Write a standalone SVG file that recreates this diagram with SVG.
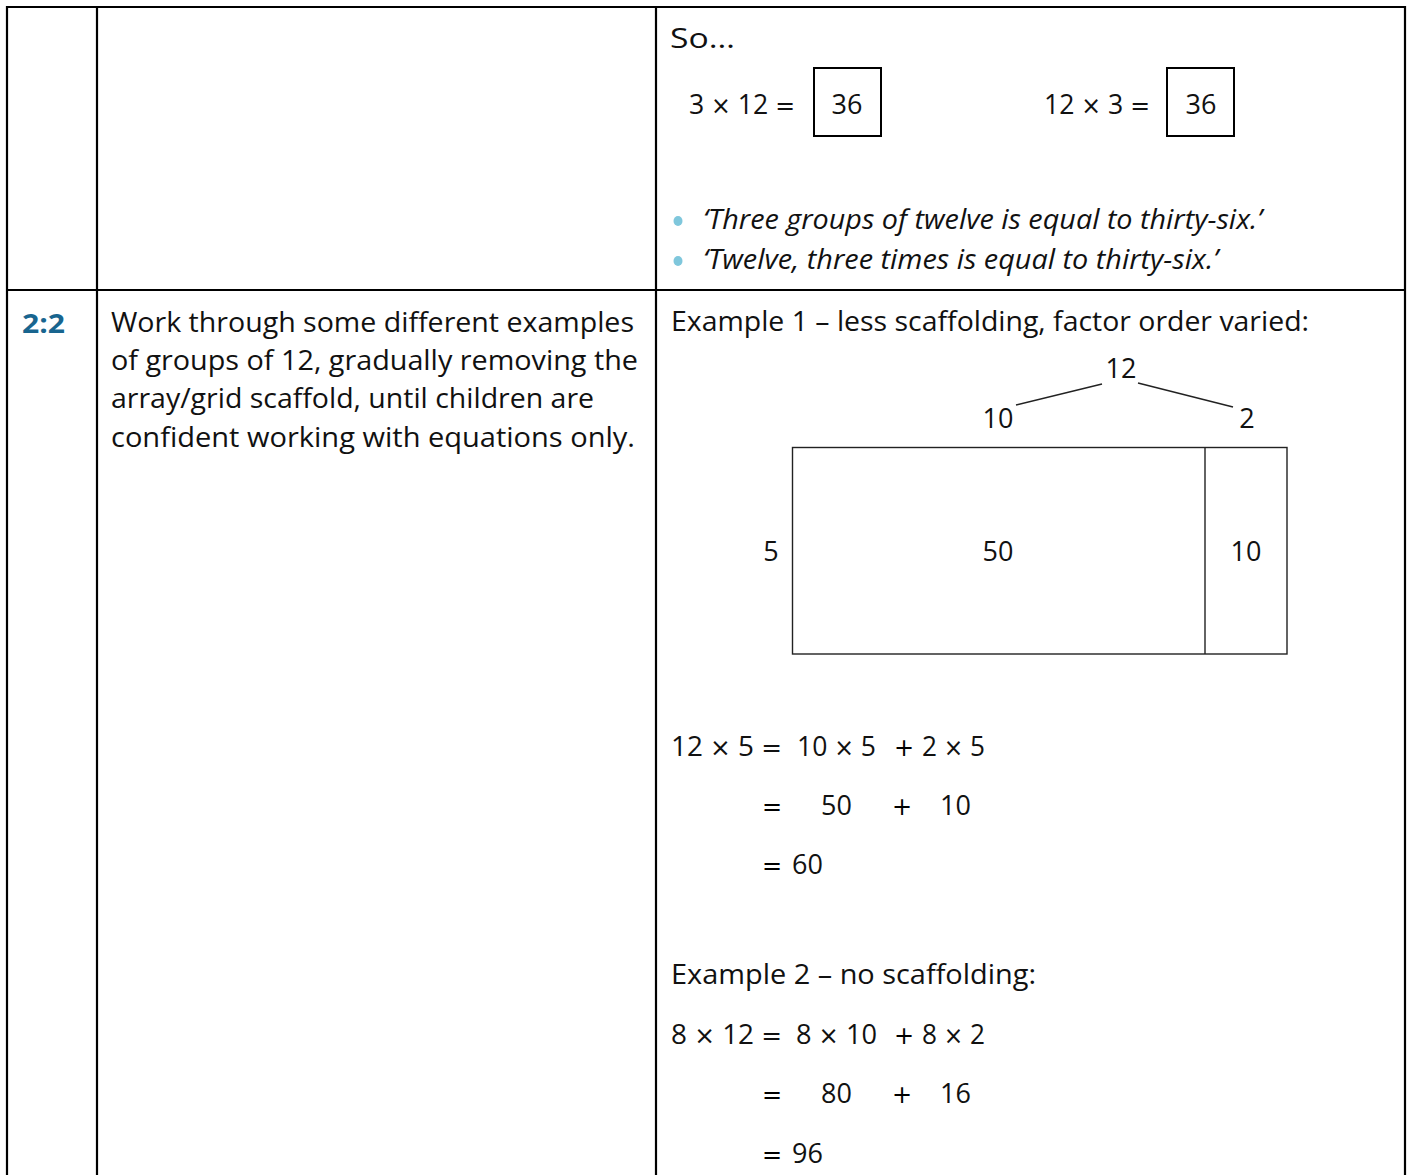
<svg xmlns="http://www.w3.org/2000/svg" width="1411" height="1175" viewBox="0 0 1411 1175">
<style>
.t{font-family:"Open Sans","Liberation Sans",sans-serif;font-size:27px;fill:#111}
.i{font-family:"Open Sans","Liberation Sans",sans-serif;font-size:27px;font-style:italic;fill:#111}
.b{font-family:"Open Sans","Liberation Sans",sans-serif;font-weight:bold;font-size:27px;fill:#18658f}
.s{font-family:"DejaVu Sans",sans-serif;font-size:24px}
.m{text-anchor:middle}
.grid{stroke:#000;stroke-width:2.2;fill:none}
.thin{stroke:#222;stroke-width:1.4;fill:none}
.box{stroke:#000;stroke-width:2;fill:none}
.dot{fill:#7fc7dc}
</style>
<rect width="1411" height="1175" fill="#fff"/>
<g id="table">
<path class="grid" d="M7,1175 V7 H1405 V1175 M97,7 V1175 M656,7 V1175 M7,290 H1405"/>
</g>
<g id="row1-right">
<text class="t" x="670" y="48" textLength="65" lengthAdjust="spacingAndGlyphs">So…</text>
<text class="t" x="689" y="114" textLength="106" lengthAdjust="spacingAndGlyphs">3 <tspan class="s">×</tspan> 12 <tspan class="s">=</tspan></text>
<rect class="box" x="814" y="68" width="67" height="68"/>
<text class="t m" x="847" y="114">36</text>
<text class="t" x="1044" y="114" textLength="106" lengthAdjust="spacingAndGlyphs">12 <tspan class="s">×</tspan> 3 <tspan class="s">=</tspan></text>
<rect class="box" x="1167" y="68" width="67" height="68"/>
<text class="t m" x="1201" y="114">36</text>
<ellipse class="dot" cx="678" cy="221" rx="4.5" ry="5"/>
<text class="i" x="703" y="229" textLength="559" lengthAdjust="spacingAndGlyphs">‘Three groups of twelve is equal to thirty-six.’</text>
<ellipse class="dot" cx="678" cy="261" rx="4.5" ry="5"/>
<text class="i" x="703" y="269" textLength="515" lengthAdjust="spacingAndGlyphs">‘Twelve, three times is equal to thirty-six.’</text>
</g>
<g id="row2-label">
<text class="b" x="22" y="333" textLength="43" lengthAdjust="spacingAndGlyphs">2:2</text>
</g>
<g id="row2-desc">
<text class="t" x="111" y="332" textLength="523" lengthAdjust="spacingAndGlyphs">Work through some different examples</text>
<text class="t" x="111" y="370" textLength="527" lengthAdjust="spacingAndGlyphs">of groups of 12, gradually removing the</text>
<text class="t" x="111" y="408" textLength="483" lengthAdjust="spacingAndGlyphs">array/grid scaffold, until children are</text>
<text class="t" x="111" y="447" textLength="524" lengthAdjust="spacingAndGlyphs">confident working with equations only.</text>
</g>
<g id="example1">
<text class="t" x="671" y="331" textLength="638" lengthAdjust="spacingAndGlyphs">Example 1 – less scaffolding, factor order varied:</text>
<text class="t m" x="1121" y="378">12</text>
<text class="t m" x="998" y="428">10</text>
<text class="t m" x="1247" y="428">2</text>
<text class="t m" x="771" y="561">5</text>
<text class="t m" x="998" y="561">50</text>
<text class="t m" x="1246" y="561">10</text>
</g>
<g id="connectors">
<line class="thin" x1="1016" y1="405" x2="1102" y2="384"/>
<line class="thin" x1="1138" y1="383" x2="1233" y2="407"/>
<rect class="thin" x="792.5" y="447.5" width="494.5" height="206.5"/>
<line class="thin" x1="1205" y1="447.5" x2="1205" y2="654"/>
</g>
<g id="equations1">
<text class="t" x="671" y="756" textLength="111" lengthAdjust="spacingAndGlyphs">12 <tspan class="s">×</tspan> 5 <tspan class="s">=</tspan></text>
<text class="t" x="797" y="756" textLength="79" lengthAdjust="spacingAndGlyphs">10 <tspan class="s">×</tspan> 5</text>
<text class="s" x="894" y="756">+</text>
<text class="t" x="922" y="756" textLength="63" lengthAdjust="spacingAndGlyphs">2 <tspan class="s">×</tspan> 5</text>
<text class="s" x="762" y="815">=</text>
<text class="t" x="821" y="815">50</text>
<text class="s" x="892" y="815">+</text>
<text class="t" x="940" y="815">10</text>
<text class="s" x="762" y="874">=</text>
<text class="t" x="792" y="874">60</text>
</g>
<g id="example2">
<text class="t" x="671" y="984" textLength="365" lengthAdjust="spacingAndGlyphs">Example 2 – no scaffolding:</text>
<text class="t" x="671" y="1044" textLength="111" lengthAdjust="spacingAndGlyphs">8 <tspan class="s">×</tspan> 12 <tspan class="s">=</tspan></text>
<text class="t" x="796" y="1044" textLength="81" lengthAdjust="spacingAndGlyphs">8 <tspan class="s">×</tspan> 10</text>
<text class="s" x="894" y="1044">+</text>
<text class="t" x="922" y="1044" textLength="63" lengthAdjust="spacingAndGlyphs">8 <tspan class="s">×</tspan> 2</text>
<text class="s" x="762" y="1103">=</text>
<text class="t" x="821" y="1103">80</text>
<text class="s" x="892" y="1103">+</text>
<text class="t" x="940" y="1103">16</text>
<text class="s" x="762" y="1163">=</text>
<text class="t" x="792" y="1163">96</text>
</g>
</svg>
